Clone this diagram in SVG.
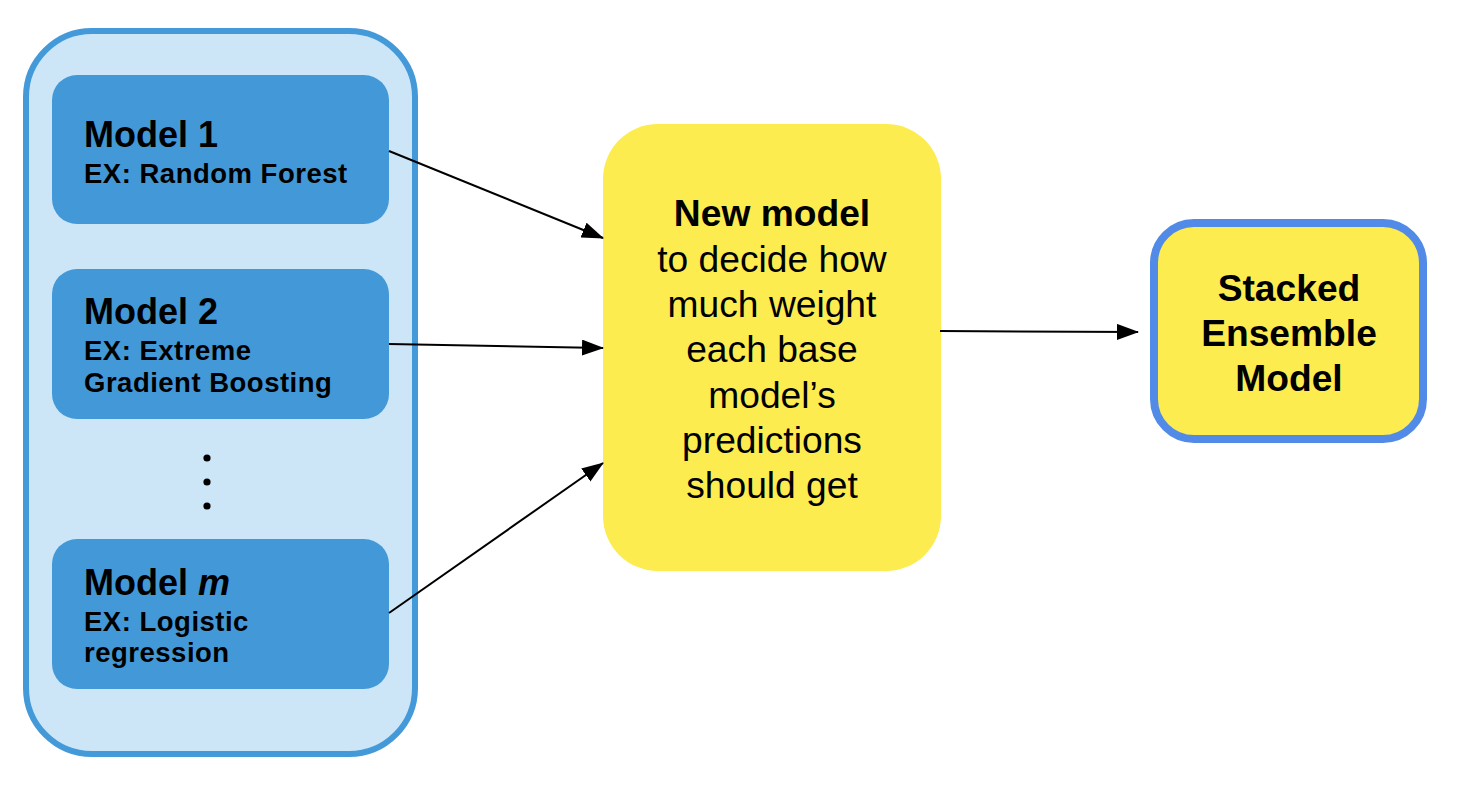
<svg xmlns="http://www.w3.org/2000/svg" width="1460" height="788" viewBox="0 0 1460 788">
<style>
  .container { fill: #cce6f8; stroke: #449ad9; stroke-width: 6; }
  .model { fill: #4399d7; }
  .title { font-family: "Liberation Sans", Arial, sans-serif; font-weight: bold; font-size: 36px; fill: #000; }
  .sub { font-family: "Liberation Sans", Arial, sans-serif; font-weight: bold; font-size: 27.5px; fill: #000; letter-spacing: 0.5px; }
  .yellow { fill: #fcec50; }
  .stacked { fill: #fcec50; stroke: #528ae8; stroke-width: 8; }
  .mid { font-family: "Liberation Sans", Arial, sans-serif; font-size: 37.2px; fill: #000; text-anchor: middle; }
  .bold { font-weight: bold; }
  .conn { stroke: #000; stroke-width: 2; fill: none; marker-end: url(#arrow); }
</style>
<defs>
  <marker id="arrow" markerWidth="22" markerHeight="16" refX="21" refY="8" orient="auto" markerUnits="userSpaceOnUse">
    <path d="M0,0 L22,8 L0,16 Z" fill="#000"/>
  </marker>
</defs>
<rect width="1460" height="788" fill="#ffffff"/>
<g id="base-models">
  <rect class="container" x="26" y="31" width="389" height="723" rx="66" ry="66"/>
</g>
<g id="model-1">
  <rect class="model" x="52" y="75" width="337" height="149" rx="25" ry="25"/>
  <text class="title" x="84" y="147">Model 1</text>
  <text class="sub" x="84" y="183">EX: Random Forest</text>
</g>
<g id="model-2">
  <rect class="model" x="52" y="269" width="337" height="150" rx="25" ry="25"/>
  <text class="title" x="84" y="324">Model 2</text>
  <text class="sub" x="84" y="360">EX: Extreme</text>
  <text class="sub" x="84" y="392">Gradient Boosting</text>
</g>
<g id="ellipsis">
  <circle cx="207" cy="458" r="3.6" fill="#000"/>
  <circle cx="207" cy="482" r="3.6" fill="#000"/>
  <circle cx="207" cy="506" r="3.6" fill="#000"/>
</g>
<g id="model-m">
  <rect class="model" x="52" y="539" width="337" height="150" rx="25" ry="25"/>
  <text class="title" x="84" y="595">Model <tspan font-style="italic">m</tspan></text>
  <text class="sub" x="84" y="631">EX: Logistic</text>
  <text class="sub" x="84" y="662">regression</text>
</g>
<g id="new-model">
  <rect class="yellow" x="603" y="124" width="338" height="447" rx="55" ry="55"/>
  <text class="mid bold" x="772" y="226">New model</text>
  <text class="mid" x="772" y="272">to decide how</text>
  <text class="mid" x="772" y="317">much weight</text>
  <text class="mid" x="772" y="362">each base</text>
  <text class="mid" x="772" y="408">model’s</text>
  <text class="mid" x="772" y="453">predictions</text>
  <text class="mid" x="772" y="498">should get</text>
</g>
<g id="stacked-ensemble">
  <rect class="stacked" x="1154" y="223" width="269" height="216" rx="40" ry="40"/>
  <text class="mid bold" x="1289" y="301">Stacked</text>
  <text class="mid bold" x="1289" y="346">Ensemble</text>
  <text class="mid bold" x="1289" y="391">Model</text>
</g>
<g id="connectors">
  <line class="conn" x1="389" y1="151" x2="603" y2="238"/>
  <line class="conn" x1="389" y1="344" x2="603" y2="348"/>
  <line class="conn" x1="389" y1="613" x2="603" y2="463"/>
  <line class="conn" x1="940" y1="331" x2="1138" y2="332"/>
</g>
</svg>
